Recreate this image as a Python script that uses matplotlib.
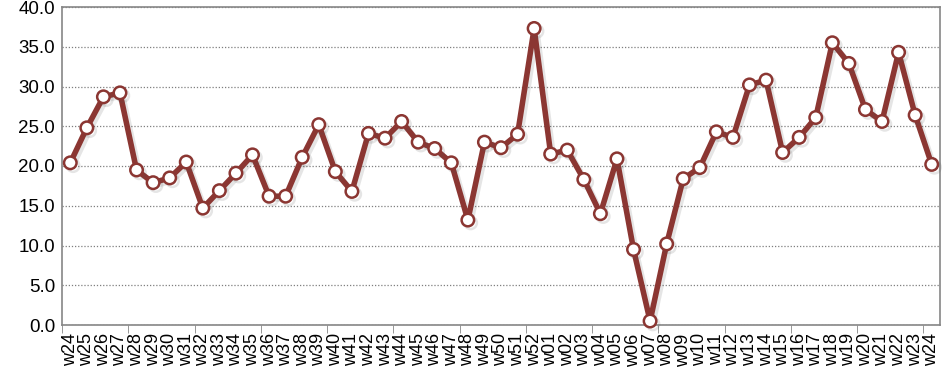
import matplotlib.pyplot as plt
import matplotlib.patheffects as pe
from matplotlib.ticker import FixedLocator

plt.rcParams['font.family'] = ['Liberation Sans', 'DejaVu Sans']

# week labels (w24 .. w52, then w01 .. w24)
weeks = ['w%02d' % w for w in range(24, 53)] + ['w%02d' % w for w in range(1, 25)]
values = [20.4, 24.8, 28.7, 29.2, 19.5, 17.9, 18.5, 20.5, 14.7, 16.9,
          19.1, 21.4, 16.2, 16.2, 21.1, 25.2, 19.3, 16.8, 24.1, 23.5,
          25.6, 23.0, 22.2, 20.4, 13.2, 23.0, 22.3, 24.0, 37.3, 21.5,
          22.0, 18.3, 14.0, 20.9, 9.5, 0.5, 10.2, 18.4, 19.8, 24.3,
          23.6, 30.2, 30.8, 21.7, 23.6, 26.1, 35.5, 32.9, 27.1, 25.6,
          34.3, 26.4, 20.2]
yticks = [0, 5, 10, 15, 20, 25, 30, 35, 40]

line_color = '#8b3632'
axis_color = '#868686'

fig = plt.figure(figsize=(9.48, 3.78), dpi=100)
ax = fig.add_axes([62 / 948, 1 - 325 / 378, (940 - 62) / 948, (325 - 7) / 378])

x = list(range(len(values)))
ax.plot(x, values, color=line_color, lw=4, marker='o', ms=9, clip_on=False,
        mfc='white', mec=line_color, mew=1.8, zorder=3,
        path_effects=[pe.SimpleLineShadow(offset=(2, -2), alpha=0.15, shadow_color='#555555'),
                      pe.Normal()])

ax.set_xlim(-0.5, len(values) - 0.5)
ax.set_ylim(0, 40)
ax.set_yticks(yticks)
ax.set_yticklabels(['%.1f' % v for v in yticks])
ax.set_xticks(x)
ax.set_xticklabels(weeks, rotation=90)
ax.xaxis.set_minor_locator(FixedLocator([i - 0.5 for i in range(0, len(values), 4)]))

ax.tick_params(axis='x', which='major', length=0, pad=6, labelsize=13)
ax.tick_params(axis='x', which='minor', length=6, color=axis_color, direction='out')
ax.tick_params(axis='y', length=0, pad=5, labelsize=13.5)

ax.grid(axis='y', color='#7f7f7f', linestyle=(0, (1, 1.5)), linewidth=0.9)
ax.set_axisbelow(True)
for s in ax.spines.values():
    s.set_color(axis_color)
    s.set_linewidth(1.2)

fig.savefig('out.png', dpi=100)
